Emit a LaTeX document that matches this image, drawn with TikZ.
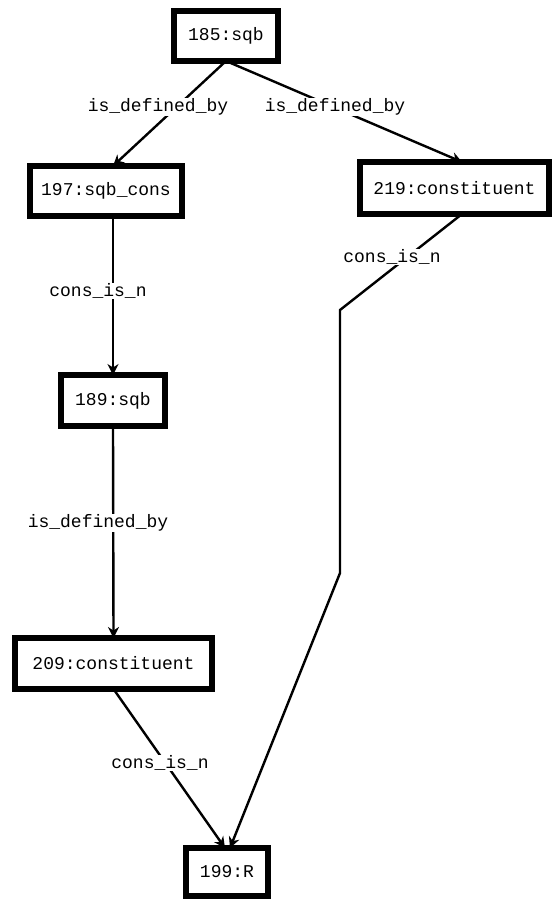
\documentclass[tikz,border=0pt]{standalone}
\usepackage{fontspec}
\setmonofont{Liberation Mono}
\usetikzlibrary{arrows.meta}
\begin{document}
\begin{tikzpicture}[x=1pt,y=-1pt,
  box/.style={draw=black,line width=6pt,fill=white,inner sep=0pt,outer sep=0pt,font=\ttfamily\fontsize{18}{20}\selectfont},
  lbl/.style={fill=white,inner sep=1pt,font=\ttfamily\fontsize{18}{20}\selectfont},
  edge/.style={line width=2.4pt,-{Stealth[length=11pt,width=11pt]}},
  seg/.style={line width=2.4pt}]
\useasboundingbox (0,0) rectangle (556,901);
\node[box,minimum width=104pt,minimum height=50pt] (n185) at (226,36) {185:sqb};
\node[box,minimum width=152pt,minimum height=50pt] (n197) at (106,191) {197:sqb\_cons};
\node[box,minimum width=189pt,minimum height=52pt] (n219) at (454.5,188) {219:constituent};
\node[box,minimum width=104pt,minimum height=51pt] (n189) at (113,400.5) {189:sqb};
\node[box,minimum width=197pt,minimum height=51pt] (n209) at (113.5,663.5) {209:constituent};
\node[box,minimum width=82pt,minimum height=48pt] (n199) at (227,872) {199:R};
\coordinate (b1) at (340,310);
\coordinate (b2) at (340,573);
\draw[edge] (n185.south) -- ([xshift=7pt]n197.north);
\draw[edge] (n185.south) -- ([xshift=7.5pt]n219.north);
\draw[edge] ([xshift=7pt]n197.south) -- (n189.north);
\draw[edge] (n189.south) -- (n209.north);
\draw[edge] (n209.south) -- ([xshift=-2pt]n199.north);
\draw[edge] ([xshift=7.5pt]n219.south) -- (b1) -- (b2) -- ([xshift=3pt]n199.north);
\node[lbl] (l1) at (158,107) {is\_defined\_by};
\node[lbl] (l2) at (335,107) {is\_defined\_by};
\node[lbl] (l3) at (98,291) {cons\_is\_n};
\node[lbl] (l4) at (392,257) {cons\_is\_n};
\node[lbl] (l5) at (98,523) {is\_defined\_by};
\node[lbl] (l6) at (160,763) {cons\_is\_n};
\end{tikzpicture}
\end{document}
